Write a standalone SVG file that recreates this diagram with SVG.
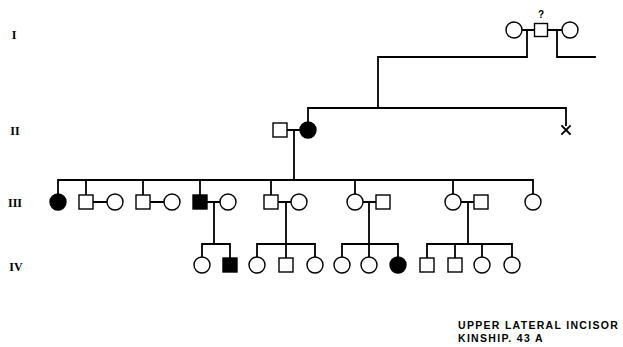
<svg xmlns="http://www.w3.org/2000/svg" width="623" height="347" viewBox="0 0 623 347">
<style>
.ln{stroke:#000;stroke-width:1.8;fill:none;stroke-linecap:square}
.o{fill:#fff;stroke:#000;stroke-width:1.4}
.f{fill:#000;stroke:#000;stroke-width:1.4}
.gen{font-family:"Liberation Serif",serif;font-weight:bold;font-size:12px;text-anchor:middle}
.cap{font-family:"Liberation Sans",sans-serif;font-weight:bold;font-size:10.5px;letter-spacing:1.3px}
</style>
<rect width="623" height="347" fill="#fff"/>
<g id="labels">
<text class="gen" x="14" y="39">I</text>
<text class="gen" x="15" y="135">II</text>
<text class="gen" x="15" y="207">III</text>
<text class="gen" x="16" y="271">IV</text>
</g>
<g id="connectors">
<path class="ln" d="M522 30H534 M548 30H562 M527 30V57H378V108 M557 30V57H595"/>
<path class="ln" d="M287 130H300 M308 108H566 M308 108V122 M566 108V125 M294 130V180"/>
<path class="ln" d="M58 180H533 M58 180V194 M86 180V195 M143 180V195 M200 180V195 M271 180V195 M355 180V194 M453 180V194 M533 180V194"/>
<path class="ln" d="M93 202H107 M150 202H164 M207 202H220 M278 202H291 M363 202H376 M461 202H474"/>
<path class="ln" d="M214 202V244 M286 202V244 M369 202V244 M468 202V244"/>
<path class="ln" d="M202 244H230 M202 244V257 M230 244V258 M257 244H315 M257 244V257 M286 244V258 M315 244V257 M342 244H398 M342 244V257 M369 244V257 M398 244V257 M427 244H512 M427 244V258 M455 244V258 M482 244V257 M512 244V257"/>
</g>
<g id="I-1"><circle class="o" cx="514" cy="30" r="8"/></g>
<g id="I-2"><rect class="o" x="534.5" y="23.5" width="13" height="13"/><text x="541" y="18" font-family="Liberation Sans,sans-serif" font-weight="bold" font-size="10" text-anchor="middle">?</text></g>
<g id="I-3"><circle class="o" cx="570" cy="30" r="8"/></g>
<g id="II-1"><rect class="o" x="273" y="123" width="14" height="14"/></g>
<g id="II-2"><circle class="f" cx="308" cy="130" r="8"/></g>
<g id="II-3"><path class="ln" d="M562 126L570 134M570 126L562 134" stroke-width="1.6"/></g>
<g id="III-1"><circle class="f" cx="58" cy="202" r="8"/></g>
<g id="III-2"><rect class="o" x="79" y="195" width="14" height="14"/></g>
<g id="III-3"><circle class="o" cx="115" cy="202" r="8"/></g>
<g id="III-4"><rect class="o" x="136" y="195" width="14" height="14"/></g>
<g id="III-5"><circle class="o" cx="172" cy="202" r="8"/></g>
<g id="III-6"><rect class="f" x="193" y="195" width="14" height="14"/></g>
<g id="III-7"><circle class="o" cx="228" cy="202" r="8"/></g>
<g id="III-8"><rect class="o" x="264" y="195" width="14" height="14"/></g>
<g id="III-9"><circle class="o" cx="299" cy="202" r="8"/></g>
<g id="III-10"><circle class="o" cx="355" cy="202" r="8"/></g>
<g id="III-11"><rect class="o" x="376" y="195" width="14" height="14"/></g>
<g id="III-12"><circle class="o" cx="453" cy="202" r="8"/></g>
<g id="III-13"><rect class="o" x="474" y="195" width="14" height="14"/></g>
<g id="III-14"><circle class="o" cx="533" cy="202" r="8"/></g>
<g id="IV-1"><circle class="o" cx="202" cy="265" r="8"/></g>
<g id="IV-2"><rect class="f" x="223" y="258" width="14" height="14"/></g>
<g id="IV-3"><circle class="o" cx="257" cy="265" r="8"/></g>
<g id="IV-4"><rect class="o" x="279" y="258" width="14" height="14"/></g>
<g id="IV-5"><circle class="o" cx="315" cy="265" r="8"/></g>
<g id="IV-6"><circle class="o" cx="342" cy="265" r="8"/></g>
<g id="IV-7"><circle class="o" cx="369" cy="265" r="8"/></g>
<g id="IV-8"><circle class="f" cx="398" cy="265" r="8"/></g>
<g id="IV-9"><rect class="o" x="420" y="258" width="14" height="14"/></g>
<g id="IV-10"><rect class="o" x="448" y="258" width="14" height="14"/></g>
<g id="IV-11"><circle class="o" cx="482" cy="265" r="8"/></g>
<g id="IV-12"><circle class="o" cx="512" cy="265" r="8"/></g>
<g id="caption">
<text class="cap" x="458" y="329">UPPER LATERAL INCISOR</text>
<text class="cap" x="458" y="342">KINSHIP. 43 A</text>
</g>
</svg>
